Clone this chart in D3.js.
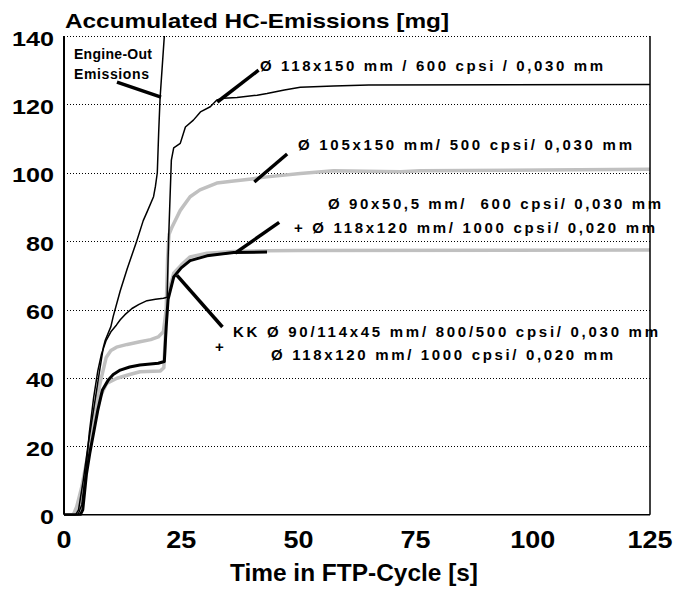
<!DOCTYPE html>
<html>
<head>
<meta charset="utf-8">
<script src="https://cdn.jsdelivr.net/npm/d3@7"></script>
<style>
  body { margin: 0; background: #fff; }
  text { font-family: "Liberation Sans", Arial, sans-serif; font-weight: bold; fill: #000; }
</style>
</head>
<body>
<svg id="chart" width="677" height="591"></svg>
<script>
// axis ticks
var xTicks = [0, 25, 50, 75, 100, 125];
var yTicks = [0, 20, 40, 60, 80, 100, 120, 140];

// Engine-Out Emissions
var engineOutT  = [0, 2.5, 3.1, 4.1, 5.2, 6.3, 7.7, 8.4, 8.8, 10.0, 10.5, 12.0, 13.5, 15.5, 16.9, 17.7, 19.1, 19.5, 19.9, 20.2, 20.5, 21.0, 21.4];
var engineOutHC = [0, 0, 1.4, 10, 21, 30.6, 43, 49, 51, 55, 58, 65.5, 72, 80, 86, 88.5, 93, 96, 100, 112, 122, 132, 140];

// Ø 118x150 mm / 600 cpsi / 0,030 mm
var cat118T  = [0, 3.0, 3.8, 4.6, 5.4, 6.3, 7.2, 8.0, 9.0, 10.0, 11.2, 12.0, 13.0, 14.5, 16.0, 17.7, 19.5, 21.2, 22.0, 22.3, 22.6, 22.9, 23.4, 24.8, 25.9, 27.6, 29.1, 31.2, 32.6, 34.0, 36.9, 41.2, 43.3, 47, 50.4, 57.5, 65, 125];
var cat118HC = [0, 0, 3, 12, 24, 34, 42, 47, 51, 53.5, 55.5, 57, 58.5, 60.3, 61.5, 62.6, 63.0, 63.3, 63.6, 80, 92, 103.7, 107.3, 108.6, 113.4, 115.4, 117.8, 119.3, 121.3, 121.8, 122.0, 122.7, 123.2, 124.2, 125.0, 125.4, 125.7, 125.8];

// Ø 105x150 mm/ 500 cpsi/ 0,030 mm
var cat105T  = [0, 2.0, 3.0, 4.1, 5.2, 6.3, 7.7, 9.0, 10.0, 11.2, 13.5, 16.2, 18.5, 20.1, 21.2, 21.8, 22.1, 22.4, 23.0, 24.8, 26.9, 29.0, 32.6, 36.2, 40, 43.3, 50.4, 57.5, 71.8, 76, 125];
var cat105HC = [0, 0, 2, 8.2, 18, 28.6, 38.5, 46, 48, 49, 49.8, 50.6, 51.2, 52, 53.5, 60, 75, 82, 84, 89, 93, 95, 97, 97.6, 98.2, 98.8, 99.8, 100.6, 100.3, 100.6, 101];

// Ø 90x50,5 mm/ 600 cpsi/ 0,030 mm + Ø 118x120 mm/ 1000 cpsi/ 0,020 mm
var cat90T  = [0, 2.0, 2.7, 3.8, 4.6, 5.6, 6.6, 7.7, 9.1, 11.3, 14, 16.2, 20.5, 21.3, 21.7, 22.1, 23.4, 25.0, 26.9, 30.5, 36.2, 43.3, 50, 125];
var cat90HC = [0, 0, 2.3, 8.2, 14, 21, 28, 34.5, 38.4, 39.9, 41, 41.8, 42, 43, 55, 64, 70.6, 73, 75.4, 76.5, 77, 77.2, 77.3, 77.4];

// KK Ø 90/114x45 mm/ 800/500 cpsi/ 0,030 mm + Ø 118x120 mm/ 1000 cpsi/ 0,020 mm
var kkT  = [0, 3.5, 4.0, 4.8, 5.5, 6.3, 7.2, 8.2, 9.5, 10.5, 12.0, 14, 16.2, 20.1, 21.4, 21.8, 22.2, 23.4, 25.0, 26.9, 30.5, 36.2, 43.3];
var kkHC = [0, 0, 1.4, 12, 18, 23.8, 30.5, 36.5, 39.5, 41, 42.3, 43.2, 43.8, 44.3, 44.8, 55, 63, 69.5, 72.2, 74.3, 75.7, 76.7, 76.8];

// leader lines, in data units [t0, hc0, t1, hc1]
var leaders = [
  [11.3, 126.5, 20.7, 122.1],
  [32.7, 120.7, 41.5, 130.0],
  [40.6, 97.3, 47.6, 105.5],
  [36.5, 76.5, 45.9, 85.5],
  [24.1, 70.0, 33.8, 54.9]
];

var svg = d3.select("#chart");
var plotL = 64, plotR = 650, plotT = 36, plotB = 514.7;

var x = d3.scaleLinear().domain([0, 125]).range([plotL, plotR]);
var y = d3.scaleLinear().domain([0, 140]).range([plotB, plotT]);

svg.append("clipPath").attr("id", "plot")
  .append("rect")
  .attr("x", plotL).attr("y", plotT - 1)
  .attr("width", plotR - plotL).attr("height", plotB - plotT + 2);

// dotted gridlines
svg.selectAll("line.grid")
  .data(yTicks.filter(function (d) { return d > 0; }))
  .enter().append("line")
  .attr("class", "grid")
  .attr("x1", plotL).attr("x2", plotR)
  .attr("y1", function (d) { return Math.round(y(d)) + 0.5; })
  .attr("y2", function (d) { return Math.round(y(d)) + 0.5; })
  .attr("stroke", "#000")
  .attr("stroke-width", 1)
  .attr("stroke-dasharray", "1,2");

// tick labels
svg.selectAll("text.ylab")
  .data(yTicks)
  .enter().append("text")
  .attr("class", "ylab")
  .attr("x", 54)
  .attr("y", function (d) { return y(d) + 9.5; })
  .attr("text-anchor", "end")
  .attr("font-size", 21)
  .attr("textLength", function (d) { return String(d).length * 14; })
  .attr("lengthAdjust", "spacingAndGlyphs")
  .text(function (d) { return d; });

svg.selectAll("text.xlab")
  .data(xTicks)
  .enter().append("text")
  .attr("class", "xlab")
  .attr("x", function (d) { return x(d); })
  .attr("y", 548)
  .attr("text-anchor", "middle")
  .attr("font-size", 24)
  .attr("textLength", function (d) { return String(d).length * 15; })
  .attr("lengthAdjust", "spacingAndGlyphs")
  .text(function (d) { return d; });

svg.append("text")
  .attr("x", 65).attr("y", 28)
  .attr("font-size", 21)
  .attr("textLength", 384)
  .attr("lengthAdjust", "spacingAndGlyphs")
  .text("Accumulated HC-Emissions [mg]");

svg.append("text")
  .attr("x", 230).attr("y", 581)
  .attr("font-size", 24)
  .attr("textLength", 248)
  .attr("lengthAdjust", "spacingAndGlyphs")
  .text("Time in FTP-Cycle [s]");

// curves
function lineOf(ts, vs) {
  var pts = ts.map(function (t, i) { return [t, vs[i]]; });
  return d3.line().x(function (d) { return x(d[0]); }).y(function (d) { return y(d[1]); })(pts);
}

var series = [
  { t: cat105T, v: cat105HC, color: "#c0c0c0", w: 3.5 },
  { t: cat90T, v: cat90HC, color: "#c0c0c0", w: 3.5 },
  { t: kkT, v: kkHC, color: "#000", w: 3 },
  { t: cat118T, v: cat118HC, color: "#000", w: 1.5 },
  { t: engineOutT, v: engineOutHC, color: "#000", w: 1.5 }
];

var g = svg.append("g").attr("clip-path", "url(#plot)");
series.forEach(function (s) {
  g.append("path")
    .attr("d", lineOf(s.t, s.v))
    .attr("fill", "none")
    .attr("stroke", s.color)
    .attr("stroke-width", s.w)
    .attr("stroke-linejoin", "round");
});

// leader lines
svg.selectAll("line.leader")
  .data(leaders)
  .enter().append("line")
  .attr("class", "leader")
  .attr("x1", function (d) { return x(d[0]); })
  .attr("y1", function (d) { return y(d[1]); })
  .attr("x2", function (d) { return x(d[2]); })
  .attr("y2", function (d) { return y(d[3]); })
  .attr("stroke", "#000")
  .attr("stroke-width", 3.5);

// annotation labels
var labels = [
  { s: "Engine-Out", x: 74, y: 59, size: 14, len: 78 },
  { s: "Emissions", x: 74, y: 79, size: 14, len: 75 },
  { s: "Ø 118x150 mm / 600 cpsi / 0,030 mm", x: 260, y: 71, size: 15, len: 343 },
  { s: "Ø 105x150 mm/ 500 cpsi/ 0,030 mm", x: 298, y: 150, size: 15, len: 334 },
  { s: "Ø 90x50,5 mm/  600 cpsi/ 0,030 mm", x: 328, y: 209, size: 15, len: 333 },
  { s: "+ Ø 118x120 mm/ 1000 cpsi/ 0,020 mm", x: 294, y: 233, size: 15, len: 361 },
  { s: "KK Ø 90/114x45 mm/ 800/500 cpsi/ 0,030 mm", x: 233, y: 337, size: 15, len: 425 },
  { s: "+", x: 215, y: 352, size: 15, len: 10 },
  { s: "Ø 118x120 mm/ 1000 cpsi/ 0,020 mm", x: 271, y: 360, size: 15, len: 342 }
];
svg.selectAll("text.note")
  .data(labels)
  .enter().append("text")
  .attr("class", "note")
  .attr("x", function (d) { return d.x; })
  .attr("y", function (d) { return d.y; })
  .attr("font-size", function (d) { return d.size; })
  .attr("textLength", function (d) { return d.len; })
  .attr("lengthAdjust", "spacing")
  .style("white-space", "pre")
  .text(function (d) { return d.s; });

// frame
svg.append("line").attr("x1", plotL).attr("x2", plotL).attr("y1", plotT).attr("y2", plotB)
  .attr("stroke", "#000").attr("stroke-width", 2);
svg.append("line").attr("x1", plotR).attr("x2", plotR).attr("y1", plotT).attr("y2", plotB)
  .attr("stroke", "#000").attr("stroke-width", 1.5);
svg.append("line").attr("x1", plotL).attr("x2", plotR).attr("y1", plotB).attr("y2", plotB)
  .attr("stroke", "#000").attr("stroke-width", 1.5);
</script>
</body>
</html>
